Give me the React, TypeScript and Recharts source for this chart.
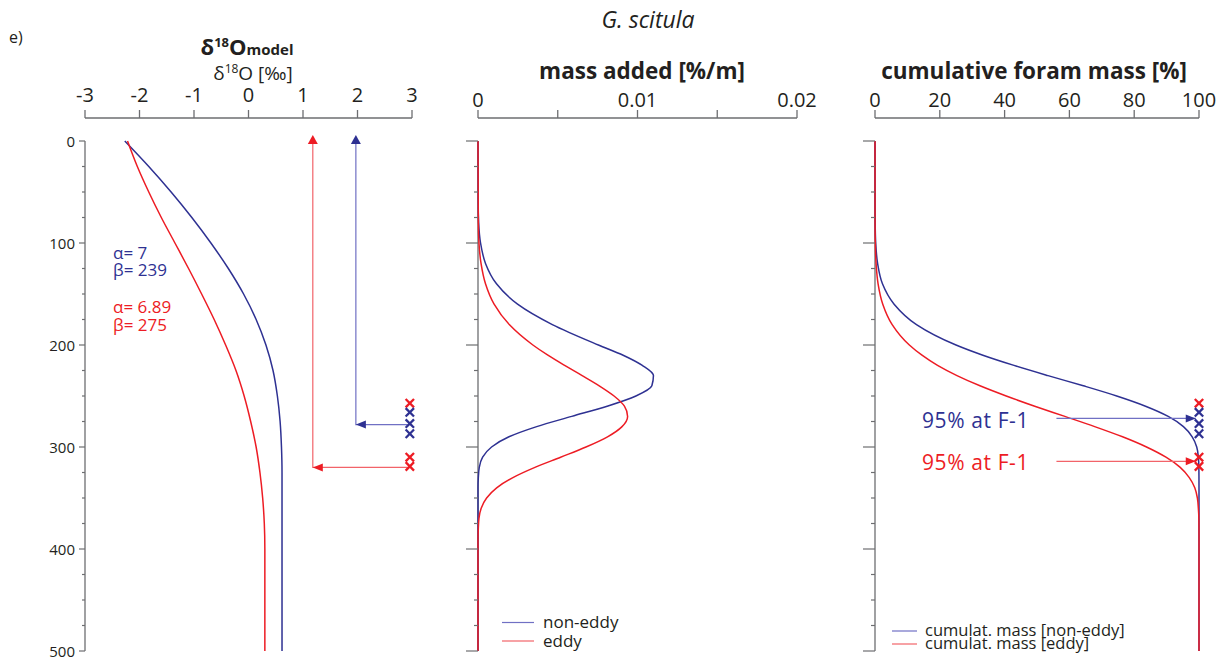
import React from 'react';
import { ScatterChart, Scatter, XAxis, YAxis } from 'recharts';

const W = 1228;
const H = 662;
const FONT = "'Open Sans', sans-serif";
const BLUE = '#2e3192';
const RED = '#ed1c24';
const BLUE_LIGHT = '#7070c4';
const RED_LIGHT = '#f26369';
const AXIS = '#6d6e71';
const TEXT = '#231f20';

// ---- shared depth axis ----
const depthTicks = [0, 25, 50, 75, 100, 125, 150, 175, 200, 225, 250, 275, 300, 325, 350, 375, 400, 425, 450, 475, 500];
const depthRange = [0, 500];

// ---- panel 1: d18O model ----
const deltaTicks = [-3, -2, -1, 0, 1, 2, 3];
const deltaDepthsNonEddy = [0, 25, 50, 75, 100, 125, 150, 175, 200, 225, 250, 275, 300, 325, 350, 500];
const deltaNonEddy = [-2.27, -1.83, -1.42, -1.04, -0.69, -0.37, -0.09, 0.14, 0.32, 0.45, 0.53, 0.58, 0.605, 0.615, 0.615, 0.615];
const deltaDepthsEddy = [0, 25, 50, 75, 100, 125, 150, 175, 200, 225, 250, 275, 300, 325, 350, 375, 400, 500];
const deltaEddy = [-2.22, -2.04, -1.83, -1.60, -1.35, -1.10, -0.86, -0.63, -0.42, -0.23, -0.08, 0.04, 0.14, 0.21, 0.26, 0.29, 0.30, 0.30];
const arrowDeltaNonEddy = { x: 1.97, fromX: 2.92, depth: 278 };
const arrowDeltaEddy = { x: 1.18, fromX: 2.92, depth: 320 };
const markerDeltaX = 2.96;

// ---- panel 2: mass added ----
const massTicks = [0, 0.005, 0.01, 0.015, 0.02];
const massDepthsNonEddy = [0, 60, 80, 100, 120, 140, 160, 180, 200, 210, 220, 230, 240, 250, 260, 270, 280, 290, 300, 310, 320, 330, 340, 500];
const massNonEddy = [0, 0.00001, 0.00004, 0.00016, 0.00047, 0.00116, 0.00248, 0.00466, 0.00755, 0.0091, 0.0103, 0.0110, 0.0109, 0.0099, 0.0081, 0.00588, 0.00368, 0.00194, 0.00085, 0.00029, 0.00008, 0.00002, 0, 0];
const massDepthsEddy = [0, 80, 100, 120, 140, 160, 180, 200, 210, 220, 230, 240, 250, 260, 270, 280, 290, 300, 310, 320, 330, 340, 350, 360, 370, 380, 390, 500];
const massEddy = [0, 0.00002, 0.00006, 0.00019, 0.00047, 0.00101, 0.00196, 0.00344, 0.00438, 0.00543, 0.00653, 0.0076, 0.00853, 0.00918, 0.00938, 0.00903, 0.00812, 0.00677, 0.00518, 0.00357, 0.00219, 0.00117, 0.00054, 0.0002, 0.00006, 0.00002, 0, 0];

// ---- panel 3: cumulative mass ----
const cumTicks = [0, 20, 40, 60, 80, 100];
const cumNonEddy = [0, 0.01, 0.05, 0.22, 0.8, 2.3, 5.9, 12.8, 25.0, 33.3, 42.9, 53.4, 64.3, 74.6, 83.5, 90.5, 95.2, 97.9, 99.3, 99.8, 99.96, 99.99, 100, 100];
const cumEddy = [0, 0.02, 0.09, 0.33, 0.95, 2.4, 5.3, 10.6, 14.5, 19.3, 25.3, 32.4, 40.5, 49.3, 58.6, 67.8, 76.4, 83.8, 89.8, 94.2, 97.0, 98.7, 99.5, 99.8, 99.96, 99.99, 100, 100];
const arrowCumNonEddy = { fromX: 56, toX: 99, depth: 272 };
const arrowCumEddy = { fromX: 56, toX: 99, depth: 314 };
const markerCumX = 100;

// ---- sample markers (depths) ----
const markerRedDepths = [257, 310, 319];
const markerBlueDepths = [266, 277, 287];

const pts = (xs: number[], ys: number[]) => xs.map((x, i) => ({ x, y: ys[i] }));
const pairs = (depths: number[], values: number[]) => depths.map((d, i) => ({ x: values[i], y: d }));

const NoShape = () => <g />;

const makeCross = (color: string) => (p: any) => {
  const { cx, cy } = p;
  const r = 4.2;
  return (
    <g stroke={color} strokeWidth={2.3}>
      <line x1={cx - r} y1={cy - r} x2={cx + r} y2={cy + r} />
      <line x1={cx - r} y1={cy + r} x2={cx + r} y2={cy - r} />
    </g>
  );
};

const makeArrowUp = (color: string) => (p: any) => {
  const { cx, cy } = p;
  return <polygon points={`${cx},${cy - 6} ${cx - 5},${cy + 3} ${cx + 5},${cy + 3}`} fill={color} />;
};
const makeArrowLeft = (color: string) => (p: any) => {
  const { cx, cy } = p;
  return <polygon points={`${cx},${cy} ${cx + 10},${cy - 4} ${cx + 10},${cy + 4}`} fill={color} />;
};
const makeArrowRight = (color: string) => (p: any) => {
  const { cx, cy } = p;
  return <polygon points={`${cx},${cy} ${cx - 10},${cy - 4} ${cx - 10},${cy + 4}`} fill={color} />;
};

function DepthTick(props: any) {
  const { x, y, payload, labeled, majorLen, minorLen } = props;
  const v = payload.value;
  const major = v % 100 === 0;
  const len = major ? majorLen : minorLen;
  return (
    <g>
      <line x1={x - len} y1={y} x2={x} y2={y} stroke={AXIS} strokeWidth={1.2} />
      {labeled && major ? (
        <text x={x - len - 4} y={y} textAnchor="end" dominantBaseline="central" fontSize={15} fill={TEXT} fontFamily={FONT}>
          {v}
        </text>
      ) : null}
    </g>
  );
}

interface PanelProps {
  left: number;
  right: number;
  xDomain: number[];
  xTicks: number[];
  tickFmt: (v: number) => string;
  tickMargin: number;
  labeled: boolean;
  majorLen: number;
  minorLen: number;
  children: React.ReactNode;
}

function Panel(p: PanelProps) {
  return (
    <div style={{ position: 'absolute', left: 0, top: 0 }}>
      <ScatterChart width={W} height={H} margin={{ top: 88, bottom: 11, left: p.left - 60, right: W - p.right }}>
        <XAxis
          type="number"
          dataKey="x"
          orientation="top"
          height={30}
          domain={p.xDomain}
          ticks={p.xTicks}
          interval={0}
          tickFormatter={p.tickFmt}
          stroke={AXIS}
          axisLine={{ stroke: AXIS, strokeWidth: 1.3 }}
          tickLine={{ stroke: AXIS, strokeWidth: 1.3 }}
          tickSize={8}
          tickMargin={p.tickMargin}
          tick={{ fontSize: 20, fill: TEXT, fontFamily: FONT }}
        />
        <YAxis
          type="number"
          dataKey="y"
          domain={depthRange}
          reversed
          ticks={depthTicks}
          interval={0}
          padding={{ top: 23, bottom: 0 }}
          width={60}
          axisLine={false}
          tickLine={false}
          tickSize={0}
          tickMargin={0}
          tick={(t: any) => <DepthTick {...t} labeled={p.labeled} majorLen={p.majorLen} minorLen={p.minorLen} />}
        />
        <Scatter
          data={pts([p.xDomain[0], p.xDomain[0]], depthRange)}
          shape={NoShape}
          line={{ stroke: AXIS, strokeWidth: 1.3 }}
          lineType="joint"
          isAnimationActive={false}
        />
        {p.children}
      </ScatterChart>
    </div>
  );
}

const curve = (data: any[], color: string, width = 1.5) => (
  <Scatter
    data={data}
    shape={NoShape}
    line={{ stroke: color, strokeWidth: width }}
    lineType="joint"
    lineJointType="monotoneY"
    isAnimationActive={false}
  />
);
const segment = (data: any[], color: string) => (
  <Scatter data={data} shape={NoShape} line={{ stroke: color, strokeWidth: 1.2 }} lineType="joint" isAnimationActive={false} />
);

export default function App() {
  return (
    <div style={{ position: 'absolute', left: 0, top: 0, width: W, height: H, background: '#fff', fontFamily: FONT }}>
      {/* Panel 1 */}
      <Panel left={85} right={412} xDomain={[-3, 3]} xTicks={deltaTicks} tickFmt={(v) => String(v)} tickMargin={8} labeled majorLen={6} minorLen={3}>
        {curve(pairs(deltaDepthsNonEddy, deltaNonEddy), BLUE)}
        {curve(pairs(deltaDepthsEddy, deltaEddy), RED)}
        {segment(pts([arrowDeltaNonEddy.fromX, arrowDeltaNonEddy.x, arrowDeltaNonEddy.x], [arrowDeltaNonEddy.depth, arrowDeltaNonEddy.depth, 0]), BLUE_LIGHT)}
        {segment(pts([arrowDeltaEddy.fromX, arrowDeltaEddy.x, arrowDeltaEddy.x], [arrowDeltaEddy.depth, arrowDeltaEddy.depth, 0]), RED_LIGHT)}
        <Scatter data={[{ x: arrowDeltaNonEddy.x, y: 0 }]} shape={makeArrowUp(BLUE)} isAnimationActive={false} />
        <Scatter data={[{ x: arrowDeltaEddy.x, y: 0 }]} shape={makeArrowUp(RED)} isAnimationActive={false} />
        <Scatter data={[{ x: arrowDeltaNonEddy.x, y: arrowDeltaNonEddy.depth }]} shape={makeArrowLeft(BLUE)} isAnimationActive={false} />
        <Scatter data={[{ x: arrowDeltaEddy.x, y: arrowDeltaEddy.depth }]} shape={makeArrowLeft(RED)} isAnimationActive={false} />
        <Scatter data={markerRedDepths.map((d) => ({ x: markerDeltaX, y: d }))} shape={makeCross(RED)} isAnimationActive={false} />
        <Scatter data={markerBlueDepths.map((d) => ({ x: markerDeltaX, y: d }))} shape={makeCross(BLUE)} isAnimationActive={false} />
      </Panel>

      {/* Panel 2 */}
      <Panel
        left={478}
        right={797}
        xDomain={[0, 0.02]}
        xTicks={massTicks}
        tickFmt={(v) => (v === 0 ? '0' : v === 0.01 ? '0.01' : v === 0.02 ? '0.02' : '')}
        tickMargin={3}
        labeled={false}
        majorLen={12}
        minorLen={4}
      >
        {curve(pairs(massDepthsNonEddy, massNonEddy), BLUE)}
        {curve(pairs(massDepthsEddy, massEddy), RED)}
      </Panel>

      {/* Panel 3 */}
      <Panel left={875} right={1199} xDomain={[0, 100]} xTicks={cumTicks} tickFmt={(v) => String(v)} tickMargin={3} labeled={false} majorLen={12} minorLen={4}>
        {curve(pairs(massDepthsNonEddy, cumNonEddy), BLUE)}
        {curve(pairs(massDepthsEddy, cumEddy), RED)}
        {segment(pts([arrowCumNonEddy.fromX, arrowCumNonEddy.toX], [arrowCumNonEddy.depth, arrowCumNonEddy.depth]), BLUE_LIGHT)}
        {segment(pts([arrowCumEddy.fromX, arrowCumEddy.toX], [arrowCumEddy.depth, arrowCumEddy.depth]), RED_LIGHT)}
        <Scatter data={[{ x: arrowCumNonEddy.toX, y: arrowCumNonEddy.depth }]} shape={makeArrowRight(BLUE)} isAnimationActive={false} />
        <Scatter data={[{ x: arrowCumEddy.toX, y: arrowCumEddy.depth }]} shape={makeArrowRight(RED)} isAnimationActive={false} />
        <Scatter data={markerRedDepths.map((d) => ({ x: markerCumX, y: d }))} shape={makeCross(RED)} isAnimationActive={false} />
        <Scatter data={markerBlueDepths.map((d) => ({ x: markerCumX, y: d }))} shape={makeCross(BLUE)} isAnimationActive={false} />
      </Panel>

      {/* Text overlay */}
      <svg width={W} height={H} style={{ position: 'absolute', left: 0, top: 0, pointerEvents: 'none' }} fontFamily={FONT}>
        <text x={648} y={28} textAnchor="middle" fontSize={23} fontStyle="italic" fill={TEXT}>G. scitula</text>
        <text x={9} y={43} fontSize={16} fill={TEXT}>e)</text>

        <text x={247} y={55} textAnchor="middle" fontWeight="bold" fill={TEXT}>
          <tspan fontSize={22}>δ</tspan>
          <tspan fontSize={13} dy={-8}>18</tspan>
          <tspan fontSize={22} dy={8}>O</tspan>
          <tspan fontSize={15}>model</tspan>
        </text>
        <text x={253} y={80} textAnchor="middle" fill={TEXT}>
          <tspan fontSize={19}>δ</tspan>
          <tspan fontSize={12} dy={-7}>18</tspan>
          <tspan fontSize={19} dy={7}>O [‰]</tspan>
        </text>
        <text x={642} y={79} textAnchor="middle" fontSize={22.5} fontWeight="bold" fill={TEXT}>mass added [%/m]</text>
        <text x={1034} y={79} textAnchor="middle" fontSize={22.5} fontWeight="bold" fill={TEXT}>cumulative foram mass [%]</text>

        <text x={113} y={259} fontSize={17} fill={BLUE}>α= 7</text>
        <text x={113} y={276} fontSize={17} fill={BLUE}>β= 239</text>
        <text x={113} y={313} fontSize={17} fill={RED}>α= 6.89</text>
        <text x={113} y={331} fontSize={17} fill={RED}>β= 275</text>

        <text x={922} y={428} fontSize={21} letterSpacing={0.6} fill={BLUE}>95% at F-1</text>
        <text x={922} y={470} fontSize={21} letterSpacing={0.6} fill={RED}>95% at F-1</text>

        <line x1={502} y1={622.5} x2={534} y2={622.5} stroke={BLUE_LIGHT} strokeWidth={1.2} />
        <text x={543} y={628} fontSize={17} fill={TEXT}>non-eddy</text>
        <line x1={502} y1={641} x2={534} y2={641} stroke={RED_LIGHT} strokeWidth={1.2} />
        <text x={543} y={647} fontSize={17} fill={TEXT}>eddy</text>

        <line x1={892} y1={631} x2={917} y2={631} stroke={BLUE_LIGHT} strokeWidth={1.2} />
        <text x={925} y={636} fontSize={16.5} fill={TEXT}>cumulat. mass [non-eddy]</text>
        <line x1={892} y1={644} x2={917} y2={644} stroke={RED_LIGHT} strokeWidth={1.2} />
        <text x={925} y={649} fontSize={16.5} fill={TEXT}>cumulat. mass [eddy]</text>
      </svg>
    </div>
  );
}
